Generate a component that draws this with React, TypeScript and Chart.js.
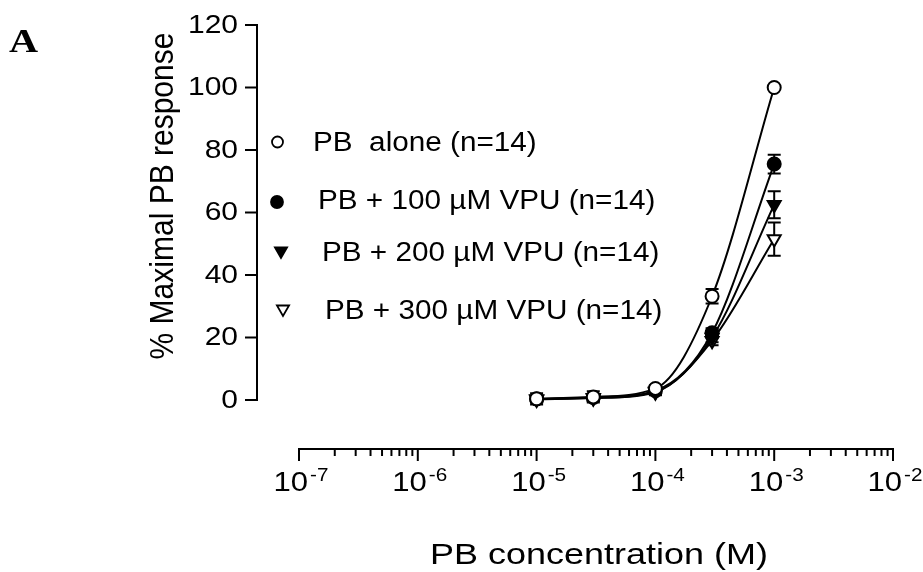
import React, { useEffect, useRef } from 'react';
import { Chart, registerables } from 'chart.js';

Chart.register(...registerables);

// ---- data ----
const concentrations = [1e-5, 3e-5, 1e-4, 3e-4, 1e-3];
const pbAlone = [0.4, 1.0, 3.7, 33.2, 100];
const pbAloneErr = [1.8, 1.8, 1.0, 2.3, 0];
const vpu100 = [0.3, 0.8, 3.0, 21.5, 75.5];
const vpu100Err = [1.0, 1.0, 1.0, 1.5, 3.0];
const vpu200 = [0.3, 0.7, 2.7, 20.0, 62.5];
const vpu200Err = [1.0, 1.0, 1.0, 1.5, 4.3];
const vpu300 = [0.2, 0.6, 2.5, 19.0, 51.5];
const vpu300Err = [1.0, 1.0, 1.0, 1.5, 5.3];
const seriesLabels = [
  'PB  alone (n=14)',
  'PB + 100 \u00b5M VPU (n=14)',
  'PB + 200 \u00b5M VPU (n=14)',
  'PB + 300 \u00b5M VPU (n=14)',
];
const yTicks = [0, 20, 40, 60, 80, 100, 120];
const xDecadeExponents = [-7, -6, -5, -4, -3, -2];
const xTitle = 'PB concentration (M)';
const yTitle = '% Maximal PB response';
const panelLabel = 'A';

const SANS = '"Liberation Sans", Arial, Helvetica, sans-serif';
const SERIF = '"Liberation Serif", "Times New Roman", serif';

function drawText(
  ctx: CanvasRenderingContext2D,
  text: string,
  x: number,
  y: number,
  font: string,
  align: 'left' | 'center' | 'right',
  baseline: CanvasTextBaseline,
  sx: number
) {
  ctx.save();
  ctx.font = font;
  ctx.textBaseline = baseline;
  ctx.textAlign = 'left';
  const w = ctx.measureText(text).width * sx;
  let left = x;
  if (align === 'center') left = x - w / 2;
  else if (align === 'right') left = x - w;
  ctx.translate(left, y);
  ctx.scale(sx, 1);
  ctx.fillStyle = '#000';
  ctx.fillText(text, 0, 0);
  ctx.restore();
  return w;
}

function drawMarker(
  ctx: CanvasRenderingContext2D,
  kind: 'circle' | 'triangle',
  filled: boolean,
  x: number,
  y: number,
  r: number
) {
  ctx.save();
  ctx.beginPath();
  if (kind === 'circle') {
    ctx.arc(x, y, r, 0, Math.PI * 2);
  } else {
    const h = r * Math.sqrt(3) / 2;
    ctx.moveTo(x - h, y - r / 2);
    ctx.lineTo(x + h, y - r / 2);
    ctx.lineTo(x, y + r);
    ctx.closePath();
  }
  ctx.fillStyle = filled ? '#000' : '#fff';
  ctx.fill();
  ctx.lineWidth = 1.8;
  ctx.strokeStyle = '#000';
  ctx.stroke();
  ctx.restore();
}

const errorArrays = [pbAloneErr, vpu100Err, vpu200Err, vpu300Err];
const valueArrays = [pbAlone, vpu100, vpu200, vpu300];

const errorBarPlugin = {
  id: 'errorBars',
  beforeDatasetsDraw(chart: any) {
    const ctx: CanvasRenderingContext2D = chart.ctx;
    const xs = chart.scales.x;
    const ys = chart.scales.y;
    ctx.save();
    ctx.strokeStyle = '#000';
    ctx.lineWidth = 2;
    for (let i = valueArrays.length - 1; i >= 0; i--) {
      const vals = valueArrays[i];
      const errs = errorArrays[i];
      for (let j = 0; j < concentrations.length; j++) {
        const e = errs[j];
        if (!e) continue;
        const px = xs.getPixelForValue(concentrations[j]);
        const top = ys.getPixelForValue(vals[j] + e);
        const bot = ys.getPixelForValue(vals[j] - e);
        ctx.beginPath();
        ctx.moveTo(px, top);
        ctx.lineTo(px, bot);
        ctx.moveTo(px - 6.5, top);
        ctx.lineTo(px + 6.5, top);
        ctx.moveTo(px - 6.5, bot);
        ctx.lineTo(px + 6.5, bot);
        ctx.stroke();
      }
    }
    ctx.restore();
  },
};

const axesPlugin = {
  id: 'customAxes',
  afterDraw(chart: any) {
    const ctx: CanvasRenderingContext2D = chart.ctx;
    const xs = chart.scales.x;
    const ys = chart.scales.y;
    ctx.save();
    ctx.strokeStyle = '#000';
    ctx.lineWidth = 2;
    ctx.lineCap = 'butt';

    // Y axis (detached to the left)
    const yAxisX = 257;
    const yTop = ys.getPixelForValue(yTicks[yTicks.length - 1]);
    const yBot = ys.getPixelForValue(yTicks[0]);
    ctx.beginPath();
    ctx.moveTo(yAxisX, yTop - 1);
    ctx.lineTo(yAxisX, yBot + 1);
    ctx.stroke();
    for (const t of yTicks) {
      const py = ys.getPixelForValue(t);
      ctx.beginPath();
      ctx.moveTo(yAxisX - 12, py);
      ctx.lineTo(yAxisX, py);
      ctx.stroke();
      drawText(ctx, String(t), 238, py + 1, `25px ${SANS}`, 'right', 'middle', 1.2);
    }

    // X axis (detached below)
    const xAxisY = 449;
    const xl = xs.getPixelForValue(Math.pow(10, xDecadeExponents[0]));
    const xr = xs.getPixelForValue(Math.pow(10, xDecadeExponents[xDecadeExponents.length - 1]));
    ctx.beginPath();
    ctx.moveTo(xl - 1, xAxisY);
    ctx.lineTo(xr + 1, xAxisY);
    ctx.stroke();
    const XSX = 1.15;
    for (let k = 0; k < xDecadeExponents.length; k++) {
      const ex = xDecadeExponents[k];
      const px = xs.getPixelForValue(Math.pow(10, ex));
      ctx.beginPath();
      ctx.moveTo(px, xAxisY);
      ctx.lineTo(px, xAxisY + 12);
      ctx.stroke();
      if (k < xDecadeExponents.length - 1) {
        for (let m = 2; m <= 9; m++) {
          const mx = xs.getPixelForValue(m * Math.pow(10, ex));
          ctx.beginPath();
          ctx.moveTo(mx, xAxisY);
          ctx.lineTo(mx, xAxisY + 7);
          ctx.stroke();
        }
      }
      // label 10^ex
      ctx.save();
      ctx.font = `27px ${SANS}`;
      const baseW = ctx.measureText('10').width * XSX;
      ctx.font = `18px ${SANS}`;
      const sup = String(ex);
      const supW = ctx.measureText(sup).width * XSX;
      ctx.restore();
      const gap = 2;
      const total = baseW + gap + supW;
      const left = px + 2 - total / 2;
      drawText(ctx, '10', left, 491, `27px ${SANS}`, 'left', 'alphabetic', XSX);
      drawText(ctx, sup, left + baseW + gap, 481, `18px ${SANS}`, 'left', 'alphabetic', XSX);
    }

    // Axis titles
    drawText(ctx, xTitle, 599, 564, `29px ${SANS}`, 'center', 'alphabetic', 1.24);
    ctx.save();
    ctx.translate(173, 196);
    ctx.rotate(-Math.PI / 2);
    ctx.scale(1, 1.08);
    ctx.font = `30px ${SANS}`;
    ctx.textAlign = 'center';
    ctx.textBaseline = 'alphabetic';
    ctx.fillStyle = '#000';
    ctx.fillText(yTitle, 0, 0);
    ctx.restore();

    // Panel label
    drawText(ctx, panelLabel, 9, 52, `bold 33px ${SERIF}`, 'left', 'alphabetic', 1.22);

    // Legend
    const legendRows = [
      { kind: 'circle', filled: false, mx: 277.5, my: 142, r: 5.5, tx: 313, ty: 144 },
      { kind: 'circle', filled: true, mx: 277, my: 202, r: 6, tx: 318, ty: 202 },
      { kind: 'triangle', filled: true, mx: 281, my: 251, r: 7, tx: 322, ty: 254 },
      { kind: 'triangle', filled: false, mx: 283, my: 309, r: 7, tx: 325, ty: 312 },
    ];
    legendRows.forEach((row, i) => {
      drawMarker(ctx, row.kind as any, row.filled, row.mx, row.my, row.r);
      drawText(ctx, seriesLabels[i], row.tx, row.ty, `27px ${SANS}`, 'left', 'middle', 1.1);
    });

    ctx.restore();
  },
};

export default function App() {
  const canvasRef = useRef<HTMLCanvasElement | null>(null);

  useEffect(() => {
    document.body.style.margin = '0';
    const canvas = canvasRef.current;
    if (!canvas) return;
    const mk = (vals: number[]) => concentrations.map((c, i) => ({ x: c, y: vals[i] }));
    const common = {
      borderColor: '#000',
      borderWidth: 2,
      pointBorderColor: '#000',
      pointBorderWidth: 2,
      cubicInterpolationMode: 'monotone' as const,
      clip: false as any,
      fill: false,
    };
    const chart = new Chart(canvas, {
      type: 'line',
      data: {
        datasets: [
          {
            ...common,
            label: seriesLabels[0],
            data: mk(pbAlone),
            pointStyle: 'circle',
            pointRadius: 6.5,
            pointBackgroundColor: '#fff',
          },
          {
            ...common,
            label: seriesLabels[1],
            data: mk(vpu100),
            pointStyle: 'circle',
            pointRadius: 6.5,
            pointBackgroundColor: '#000',
          },
          {
            ...common,
            label: seriesLabels[2],
            data: mk(vpu200),
            pointStyle: 'triangle',
            pointRotation: 180,
            pointRadius: 7.5,
            pointBackgroundColor: '#000',
          },
          {
            ...common,
            label: seriesLabels[3],
            data: mk(vpu300),
            pointStyle: 'triangle',
            pointRotation: 180,
            pointRadius: 7.5,
            pointBackgroundColor: '#fff',
          },
        ],
      },
      options: {
        animation: false,
        responsive: false,
        layout: { padding: { left: 299, right: 30, top: 25, bottom: 172 } },
        scales: {
          x: { type: 'logarithmic', min: 1e-7, max: 1e-2, display: false },
          y: { type: 'linear', min: 0, max: 120, display: false },
        },
        plugins: {
          legend: { display: false },
          tooltip: { enabled: false },
        },
        events: [],
      },
      plugins: [errorBarPlugin, axesPlugin],
    });
    return () => chart.destroy();
  }, []);

  return (
    <div style={{ position: 'absolute', left: 0, top: 0, width: 923, height: 572, background: '#fff' }}>
      <canvas ref={canvasRef} width={923} height={572} />
    </div>
  );
}
